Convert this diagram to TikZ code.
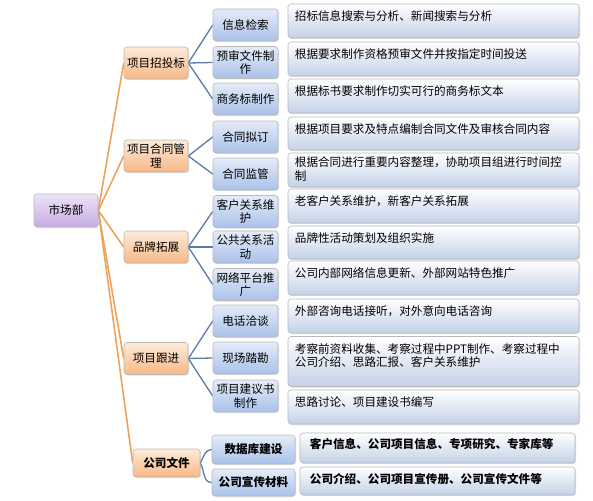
\documentclass[tikz,border=0pt]{standalone}
\usepackage{fontspec}
\setmainfont{Noto Sans CJK SC}
\usepackage{tikz}
\usetikzlibrary{shadows,backgrounds}

\definecolor{rootA}{HTML}{EDE3F7}
\definecolor{rootB}{HTML}{C7ABE3}
\definecolor{grpA}{HTML}{FEEBDA}
\definecolor{grpB}{HTML}{F8B886}
\definecolor{itemA}{HTML}{E4ECF8}
\definecolor{itemB}{HTML}{A9C1E9}
\definecolor{descA}{HTML}{FFFFFF}
\definecolor{descB}{HTML}{C3D1E8}
\definecolor{orangeLine}{HTML}{F0A25A}
\definecolor{blueLine}{HTML}{5B7BA6}

\begin{document}
\begin{tikzpicture}[x=1pt, y=-1pt,
    every node/.style={font=\fontsize{11.6}{13.5}\selectfont},
    box/.style={rounded corners=3pt, draw=gray!55, line width=0.6pt,
        drop shadow={opacity=0.25, shadow xshift=1pt, shadow yshift=-1pt}},
    root/.style={box, top color=rootA, bottom color=rootB, minimum width=64pt, minimum height=33pt},
    grp/.style={box, top color=grpA, bottom color=grpB, minimum width=64pt, minimum height=32pt, align=center, inner sep=1pt},
    item/.style={box, top color=itemA, bottom color=itemB, minimum width=65pt, minimum height=32pt, align=center, inner sep=1pt},
    desc/.style={box, top color=descA, bottom color=descB, minimum width=291pt, inner sep=0pt},
    txt/.style={anchor=north west, inner sep=0pt, align=left},
    boldtxt/.style={font=\fontsize{11.6}{13.5}\selectfont\bfseries},
    orangeconn/.style={draw=orangeLine, line width=1.6pt},
    blueconn/.style={draw=blueLine, line width=1.3pt}]
    \useasboundingbox (0,0) rectangle (593,500);

    % Root
    \node[root] (market) at (66,210.5) {市场部};

    % Groups
    \node[grp] (bid) at (156,63) {项目招投标};
    \node[grp] (contract) at (156,156) {项目合同管\\理};
    \node[grp] (brand) at (156,247) {品牌拓展};
    \node[grp] (follow) at (156,358.5) {项目跟进};
    \node[grp, boldtxt, minimum width=67pt, minimum height=28pt] (files) at (166.5,463) {公司文件};

    % Items
    \node[item] (search) at (245.5,25) {信息检索};
    \node[item] (predoc) at (245.5,62.5) {预审文件制\\作};
    \node[item] (bizbid) at (245.5,99) {商务标制作};
    \node[item] (draft) at (245.5,137) {合同拟订};
    \node[item] (supervise) at (245.5,174) {合同监管};
    \node[item] (client) at (245.5,211.5) {客户关系维\\护};
    \node[item] (public) at (245.5,247) {公共关系活\\动};
    \node[item] (web) at (245.5,284.5) {网络平台推\\广};
    \node[item] (phone) at (245.5,321) {电话洽谈};
    \node[item] (survey) at (245.5,358) {现场踏勘};
    \node[item] (proposal) at (245.5,396) {项目建议书\\制作};
    \node[item, boldtxt, minimum width=83pt, minimum height=29pt] (database) at (253.5,449.5) {数据库建设};
    \node[item, boldtxt, minimum width=83pt, minimum height=27pt] (promo) at (253.5,482.5) {公司宣传材料};

    % Descriptions
    \node[desc, minimum height=34pt] (dsearch) at (433.5,21) {};
    \node[txt] at ([xshift=7pt, yshift=-7pt]dsearch.north west) {招标信息搜索与分析、新闻搜索与分析};
    \node[desc, minimum height=34pt] (dpredoc) at (433.5,59) {};
    \node[txt] at ([xshift=7pt, yshift=-7pt]dpredoc.north west) {根据要求制作资格预审文件并按指定时间投送};
    \node[desc, minimum height=34pt] (dbizbid) at (433.5,96) {};
    \node[txt] at ([xshift=7pt, yshift=-7pt]dbizbid.north west) {根据标书要求制作切实可行的商务标文本};
    \node[desc, minimum height=33pt] (ddraft) at (433.5,133.5) {};
    \node[txt] at ([xshift=7pt, yshift=-7pt]ddraft.north west) {根据项目要求及特点编制合同文件及审核合同内容};
    \node[desc, minimum height=34pt] (dsupervise) at (433.5,170) {};
    \node[txt] at ([xshift=7pt, yshift=-4pt]dsupervise.north west) {根据合同进行重要内容整理，协助项目组进行时间控\\制};
    \node[desc, minimum height=34pt] (dclient) at (433.5,206) {};
    \node[txt] at ([xshift=7pt, yshift=-7pt]dclient.north west) {老客户关系维护，新客户关系拓展};
    \node[desc, minimum height=33pt] (dpublic) at (433.5,242.5) {};
    \node[txt] at ([xshift=7pt, yshift=-7pt]dpublic.north west) {品牌性活动策划及组织实施};
    \node[desc, minimum height=34pt] (dweb) at (433.5,278) {};
    \node[txt] at ([xshift=7pt, yshift=-7pt]dweb.north west) {公司内部网络信息更新、外部网站特色推广};
    \node[desc, minimum height=34pt] (dphone) at (433.5,316) {};
    \node[txt] at ([xshift=7pt, yshift=-7pt]dphone.north west) {外部咨询电话接听，对外意向电话咨询};
    \node[desc, minimum height=50pt] (dsurvey) at (433.5,361.5) {};
    \node[txt] at ([xshift=7pt, yshift=-7pt]dsurvey.north west) {考察前资料收集、考察过程中PPT制作、考察过程中\\公司介绍、思路汇报、客户关系维护};
    \node[desc, minimum height=34pt] (dproposal) at (433.5,407) {};
    \node[txt] at ([xshift=7pt, yshift=-7pt]dproposal.north west) {思路讨论、项目建设书编写};
    \node[desc, minimum width=275pt, minimum height=30pt] (ddatabase) at (437.5,448) {};
    \node[txt, boldtxt] at ([xshift=10pt, yshift=-6pt]ddatabase.north west) {客户信息、公司项目信息、专项研究、专家库等};
    \node[desc, minimum width=275pt, minimum height=28pt] (dpromo) at (437.5,481) {};
    \node[txt, boldtxt] at ([xshift=10pt, yshift=-6pt]dpromo.north west) {公司介绍、公司项目宣传册、公司宣传文件等};

    % Connectors (behind boxes)
    \begin{scope}[on background layer]
    \foreach \g in {bid,contract,brand,follow,files}
        \draw[orangeconn] (market.east) -- (\g.west);
    \foreach \i in {search,predoc,bizbid}
        \draw[blueconn] (bid.east) -- (\i.west);
    \foreach \i in {draft,supervise}
        \draw[blueconn] (contract.east) -- (\i.west);
    \foreach \i in {client,public,web}
        \draw[blueconn] (brand.east) -- (\i.west);
    \foreach \i in {phone,survey,proposal}
        \draw[blueconn] (follow.east) -- (\i.west);
    \draw[blueconn] (files.east) to[out=60, in=180] (database.west);
    \draw[blueconn] (files.east) to[out=-60, in=180] (promo.west);
    \end{scope}
\end{tikzpicture}
\end{document}
